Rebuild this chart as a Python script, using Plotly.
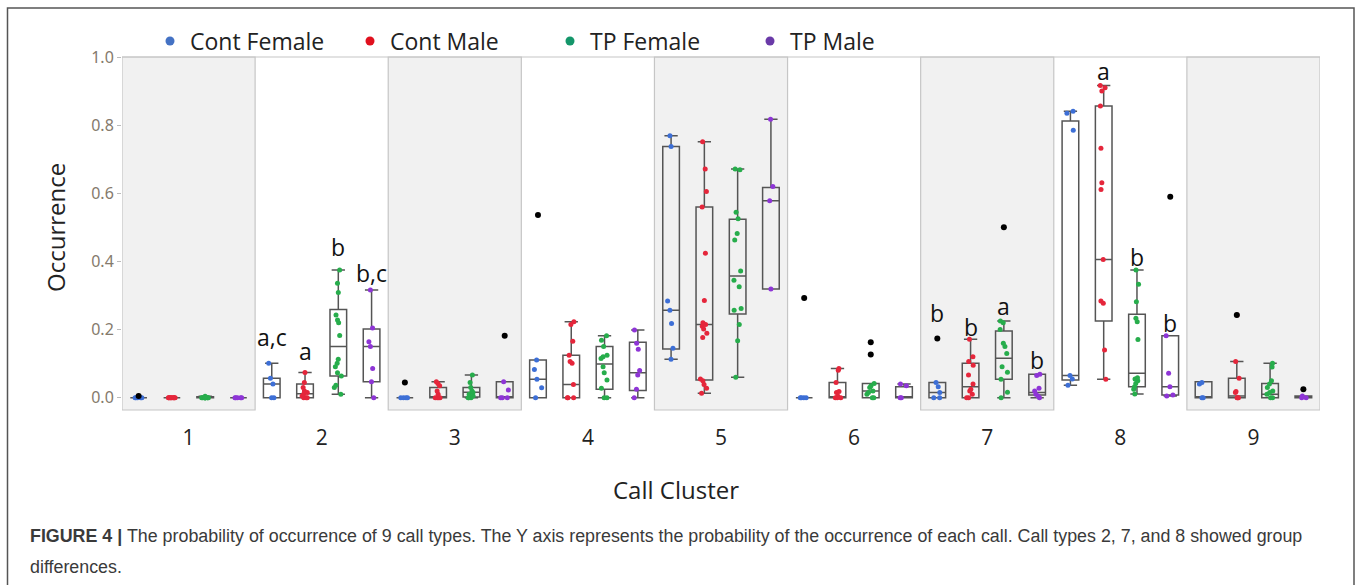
import plotly.graph_objects as go

# ---------------- data ----------------
clusters = [1, 2, 3, 4, 5, 6, 7, 8, 9]
groups = ["Cont Female", "Cont Male", "TP Female", "TP Male"]

# sample points per group, one list per cluster
pts_cont_female = [
    [0, 0, 0, 0, 0],
    [0.101, 0.057, 0.040, 0, 0],
    [0, 0, 0, 0],
    [0.111, 0.083, 0.054, 0.029, 0],
    [0.769, 0.737, 0.284, 0.257, 0.218, 0.145, 0.113],
    [0, 0, 0, 0],
    [0.045, 0.032, 0.015, 0, 0],
    [0.841, 0.835, 0.785, 0.065, 0.055, 0.037],
    [0.045, 0.040, 0, 0],
]
pts_cont_male = [
    [0, 0, 0, 0, 0, 0, 0, 0, 0, 0],
    [0.074, 0.045, 0.030, 0.020, 0.015, 0.010, 0.005, 0, 0, 0],
    [0.047, 0.042, 0.035, 0.020, 0.010, 0, 0, 0, 0],
    [0.223, 0.215, 0.166, 0.125, 0.106, 0.101, 0.039, 0, 0, 0],
    [0.751, 0.671, 0.605, 0.560, 0.424, 0.285, 0.220, 0.215, 0.210, 0.202,
     0.189, 0.177, 0.055, 0.050, 0.039, 0.028, 0.013],
    [0.086, 0.081, 0.045, 0.018, 0.015, 0.005, 0, 0, 0],
    [0.172, 0.120, 0.106, 0.095, 0.067, 0.040, 0.025, 0.020, 0.010, 0, 0],
    [0.916, 0.910, 0.900, 0.856, 0.732, 0.631, 0.611, 0.406, 0.284, 0.277, 0.140, 0.054],
    [0.243, 0.106, 0.057, 0.018, 0.015, 0, 0, 0],
]
pts_tp_female = [
    [0.004, 0, 0, 0, 0, 0, 0, 0, 0, 0, 0, 0],
    [0.375, 0.336, 0.309, 0.243, 0.228, 0.220, 0.183, 0.113, 0.101, 0.091,
     0.073, 0.064, 0.037, 0.030, 0.010],
    [0.067, 0.045, 0.030, 0.020, 0.015, 0.010, 0.005, 0, 0, 0],
    [0.182, 0.169, 0.150, 0.125, 0.120, 0.115, 0.091, 0.073, 0.052, 0.028, 0, 0],
    [0.671, 0.669, 0.544, 0.525, 0.482, 0.463, 0.372, 0.345, 0.326, 0.262,
     0.257, 0.215, 0.167, 0.060],
    [0.042, 0.035, 0.030, 0.020, 0.015, 0.010, 0, 0],
    [0.225, 0.220, 0.200, 0.160, 0.150, 0.130, 0.091, 0.075, 0.054, 0.016, 0],
    [0.375, 0.333, 0.282, 0.233, 0.223, 0.171, 0.059, 0.055, 0.050, 0.042,
     0.032, 0.025, 0.011],
    [0.101, 0.090, 0.050, 0.040, 0.030, 0.020, 0.015, 0.010, 0, 0],
]
pts_tp_male = [
    [0, 0, 0, 0, 0],
    [0.316, 0.205, 0.164, 0.150, 0.086, 0.047, 0],
    [0.047, 0.023, 0, 0, 0],
    [0.199, 0.160, 0.142, 0.080, 0.067, 0.025, 0],
    [0.817, 0.620, 0.578, 0.319],
    [0.040, 0.035, 0, 0],
    [0.069, 0.065, 0.028, 0.020, 0.010, 0.005, 0],
    [0.182, 0.072, 0.032, 0.008, 0.005],
    [0.005, 0, 0],
]

# box statistics per group (lists over clusters 1..9)
q1_cont_female = [0, 0, 0, 0, 0.143, 0, 0, 0.052, 0]
med_cont_female = [0, 0.040, 0, 0.054, 0.257, 0, 0.015, 0.065, 0]
q3_cont_female = [0, 0.057, 0, 0.111, 0.737, 0, 0.045, 0.812, 0.047]
lo_cont_female = [0, 0, 0, 0, 0.113, 0, 0, 0.037, 0]
hi_cont_female = [0, 0.101, 0, 0.111, 0.769, 0, 0.045, 0.841, 0.047]

q1_cont_male = [0, 0, 0, 0, 0.052, 0, 0, 0.225, 0]
med_cont_male = [0, 0.012, 0.002, 0.039, 0.215, 0.002, 0.032, 0.406, 0.005]
q3_cont_male = [0, 0.040, 0.030, 0.125, 0.560, 0.045, 0.101, 0.856, 0.057]
lo_cont_male = [0, 0, 0, 0, 0.013, 0, 0, 0.054, 0]
hi_cont_male = [0, 0.074, 0.047, 0.223, 0.751, 0.086, 0.172, 0.916, 0.106]

q1_tp_female = [0, 0.064, 0.002, 0.025, 0.246, 0, 0.054, 0.032, 0]
med_tp_female = [0, 0.150, 0.016, 0.099, 0.357, 0.020, 0.116, 0.072, 0.010]
q3_tp_female = [0.003, 0.259, 0.030, 0.150, 0.524, 0.042, 0.196, 0.245, 0.042]
lo_tp_female = [0, 0.010, 0, 0, 0.060, 0, 0, 0.011, 0]
hi_tp_female = [0.004, 0.375, 0.067, 0.182, 0.671, 0.042, 0.225, 0.375, 0.101]

q1_tp_male = [0, 0.047, 0, 0.021, 0.319, 0, 0.008, 0.008, 0]
med_tp_male = [0, 0.150, 0.002, 0.073, 0.578, 0, 0.015, 0.032, 0]
q3_tp_male = [0, 0.202, 0.047, 0.163, 0.617, 0.032, 0.069, 0.182, 0.005]
lo_tp_male = [0, 0, 0, 0, 0.319, 0, 0, 0.005, 0]
hi_tp_male = [0, 0.316, 0.047, 0.199, 0.817, 0.040, 0.069, 0.182, 0.005]

# outliers: (cluster, group index, value)
outlier_cluster = [1, 3, 3, 4, 6, 6, 6, 7, 7, 8, 9, 9]
outlier_group = [0, 0, 3, 0, 0, 2, 2, 0, 2, 3, 1, 3]
outlier_value = [0.005, 0.045, 0.182, 0.536, 0.293, 0.163, 0.127, 0.174, 0.500, 0.590, 0.243, 0.025]

# significance letters: (cluster, group index, label, y)
letter_cluster = [2, 2, 2, 2, 7, 7, 7, 7, 8, 8, 8]
letter_group = [0, 1, 2, 3, 0, 1, 2, 3, 1, 2, 3]
letter_text = ["a,c", "a", "b", "b,c", "b", "b", "a", "b", "a", "b", "b"]
letter_y = [0.179, 0.138, 0.443, 0.367, 0.248, 0.208, 0.270, 0.111, 0.959, 0.412, 0.218]

y_ticks = [0.0, 0.2, 0.4, 0.6, 0.8, 1.0]
shaded_clusters = [1, 3, 5, 7, 9]

caption_line1 = ("<b>FIGURE 4 |</b> The probability of occurrence of 9 call types. The Y axis represents "
                 "the probability of the occurrence of each call. Call types 2, 7, and 8 showed group")
caption_line2 = "differences."

# ---------------- styling ----------------
pt_colors = ["#3d6fd6", "#e5263b", "#27ad4c", "#8e35d6"]
leg_colors = ["#4472c4", "#e0101e", "#14966a", "#6a3aa8"]
offsets = [-0.375, -0.125, 0.125, 0.375]
box_w = 0.125

all_pts = [pts_cont_female, pts_cont_male, pts_tp_female, pts_tp_male]
all_stats = [
    (q1_cont_female, med_cont_female, q3_cont_female, lo_cont_female, hi_cont_female),
    (q1_cont_male, med_cont_male, q3_cont_male, lo_cont_male, hi_cont_male),
    (q1_tp_female, med_tp_female, q3_tp_female, lo_tp_female, hi_tp_female),
    (q1_tp_male, med_tp_male, q3_tp_male, lo_tp_male, hi_tp_male),
]

W, H = 1357, 585
ML, MR, MT, MB = 122, 37, 57, 175
PW, PH = W - ML - MR, H - MT - MB


def px_to_paper_x(px):
    return (px - ML) / PW


def px_to_paper_y(py):
    return (H - MB - py) / PH


fig = go.Figure()

# boxes (precomputed stats)
for g in range(4):
    q1, med, q3, lo, hi = all_stats[g]
    fig.add_trace(go.Box(
        x=[c + offsets[g] for c in clusters],
        q1=q1, median=med, q3=q3, lowerfence=lo, upperfence=hi,
        width=box_w, whiskerwidth=0.8,
        line=dict(color="#555555", width=1.5),
        fillcolor="rgba(0,0,0,0)",
        boxpoints=False, showlegend=False, hoverinfo="skip",
    ))

# jittered points
for g in range(4):
    xs, ys = [], []
    for ci, c in enumerate(clusters):
        for v in all_pts[g][ci]:
            xs.append(c + offsets[g])
            ys.append(v)
    fig.add_trace(go.Box(
        x=xs, y=ys, boxpoints="all", jitter=0.5, pointpos=0,
        width=box_w,
        line=dict(width=0, color="rgba(0,0,0,0)"),
        fillcolor="rgba(0,0,0,0)",
        marker=dict(color=pt_colors[g], size=5),
        showlegend=False, hoverinfo="y",
    ))

# outliers
fig.add_trace(go.Scatter(
    x=[c + offsets[g] for c, g in zip(outlier_cluster, outlier_group)],
    y=outlier_value, mode="markers",
    marker=dict(color="black", size=6), showlegend=False,
))

# legend entries
for g in range(4):
    fig.add_trace(go.Scatter(
        x=[None], y=[None], mode="markers", name=groups[g],
        marker=dict(color=leg_colors[g], size=9),
    ))

shapes = []
for c in shaded_clusters:
    shapes.append(dict(type="rect", xref="x", yref="paper", x0=c - 0.5, x1=c + 0.5,
                       y0=0, y1=1, fillcolor="#f1f1f1",
                       line=dict(color="#c6c6c6", width=1.2), layer="below"))
shapes.append(dict(type="line", xref="paper", yref="paper", x0=0, x1=1, y0=1, y1=1,
                   line=dict(color="#c6c6c6", width=1.2), layer="below"))
# outer frame
shapes.append(dict(type="rect", xref="paper", yref="paper",
                   x0=px_to_paper_x(7.5), x1=px_to_paper_x(1354),
                   y0=px_to_paper_y(600), y1=px_to_paper_y(8),
                   line=dict(color="#555555", width=1.5), fillcolor="rgba(0,0,0,0)",
                   layer="above"))

annotations = []
for c, g, t, yv in zip(letter_cluster, letter_group, letter_text, letter_y):
    annotations.append(dict(x=c + offsets[g], y=yv, xref="x", yref="y", text=t,
                            showarrow=False, xanchor="center", yanchor="middle",
                            font=dict(family="Open Sans", size=23, color="#111")))
annotations.append(dict(x=px_to_paper_x(55), y=px_to_paper_y(228), xref="paper", yref="paper",
                        xanchor="center", yanchor="middle",
                        text="Occurrence", textangle=-90, showarrow=False,
                        font=dict(family="Open Sans", size=24, color="#222")))
annotations.append(dict(x=px_to_paper_x(676), y=px_to_paper_y(489), xref="paper", yref="paper",
                        xanchor="center", yanchor="middle",
                        text="Call Cluster", showarrow=False,
                        font=dict(family="Open Sans", size=24, color="#222")))
annotations.append(dict(x=px_to_paper_x(28), y=px_to_paper_y(536), xref="paper", yref="paper",
                        xanchor="left", yanchor="middle",
                        text=caption_line1, showarrow=False,
                        font=dict(family="Liberation Sans", size=17.85, color="#3a3a3a")))
annotations.append(dict(x=px_to_paper_x(28), y=px_to_paper_y(567), xref="paper", yref="paper",
                        xanchor="left", yanchor="middle",
                        text=caption_line2, showarrow=False,
                        font=dict(family="Liberation Sans", size=17.85, color="#3a3a3a")))

fig.update_layout(
    width=W, height=H,
    margin=dict(l=ML, r=MR, t=MT, b=MB, pad=0),
    paper_bgcolor="white", plot_bgcolor="white",
    boxmode="overlay",
    shapes=shapes, annotations=annotations,
    legend=dict(orientation="h", x=px_to_paper_x(150), y=px_to_paper_y(41),
                xanchor="left", yanchor="middle",
                font=dict(family="Open Sans", size=23, color="#222"),
                entrywidth=155, bgcolor="rgba(0,0,0,0)"),
    xaxis=dict(range=[0.5, 9.5], tickvals=clusters, ticktext=[str(c) for c in clusters],
               showgrid=False, zeroline=False, showline=False,
               ticks="outside", ticklen=9, tickcolor="rgba(0,0,0,0)",
               tickfont=dict(family="Open Sans", size=21, color="#222")),
    yaxis=dict(range=[-0.036, 1.0], tickvals=y_ticks, ticktext=[f"{v:.1f}" for v in y_ticks],
               showgrid=False, zeroline=False, showline=False,
               ticks="outside", ticklen=4, tickcolor="#bbbbbb",
               tickfont=dict(family="Noto Sans", size=16, color="#857a6c")),
)

fig.write_html("out.html", config={"displayModeBar": False},
               post_script="document.body.style.margin='0px';")
